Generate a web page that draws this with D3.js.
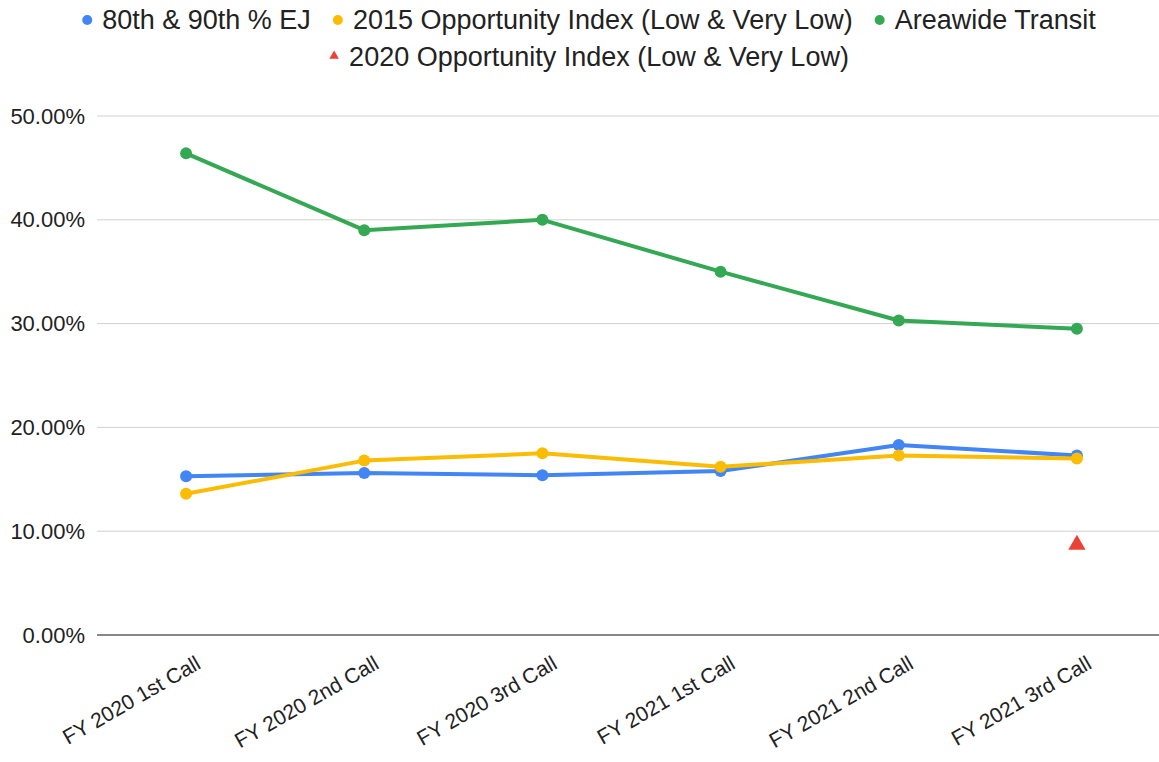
<!DOCTYPE html>
<html>
<head>
<meta charset="utf-8">
<script src="https://cdn.jsdelivr.net/npm/d3@7"></script>
<style>
  body { margin: 0; background: #fff; }
  text { font-family: "Liberation Sans", Arial, sans-serif; fill: #222; }
</style>
</head>
<body>
<div id="chart"></div>
<script>
const categories = ['FY 2020 1st Call', 'FY 2020 2nd Call', 'FY 2020 3rd Call',
  'FY 2021 1st Call', 'FY 2021 2nd Call', 'FY 2021 3rd Call'];
const ejValues = [0.153, 0.156, 0.154, 0.158, 0.183, 0.173];
const opp2015Values = [0.136, 0.168, 0.175, 0.162, 0.173, 0.170];
const transitValues = [0.464, 0.390, 0.400, 0.350, 0.303, 0.295];
const opp2020Values = [null, null, null, null, null, 0.087];
const yTicks = [0, 0.1, 0.2, 0.3, 0.4, 0.5];

const series = [
  { name: '80th & 90th % EJ', values: ejValues, color: '#4285f4', type: 'line' },
  { name: '2015 Opportunity Index (Low & Very Low)', values: opp2015Values, color: '#fbbc04', type: 'line' },
  { name: 'Areawide Transit', values: transitValues, color: '#34a853', type: 'line' },
  { name: '2020 Opportunity Index (Low & Very Low)', values: opp2020Values, color: '#ea4335', type: 'triangle' }
];

const width = 1159, height = 762;
const margin = { top: 116, right: 0, bottom: 127, left: 97 };

const svg = d3.select('#chart').append('svg')
  .attr('width', width)
  .attr('height', height);

// points sit at 186 ... 1077, so the band runs a little past the right edge
const x = d3.scalePoint()
  .domain(categories)
  .range([margin.left, 1166])
  .padding(0.5);

const y = d3.scaleLinear()
  .domain([0, 0.5])
  .range([height - margin.bottom, margin.top]);

// grid
svg.append('g')
  .selectAll('line')
  .data(yTicks)
  .enter().append('line')
    .attr('x1', margin.left)
    .attr('x2', width - margin.right)
    .attr('y1', d => y(d))
    .attr('y2', d => y(d))
    .attr('stroke', d => d === 0 ? '#888' : '#d0d0d0')
    .attr('stroke-width', d => d === 0 ? 2 : 1);

// y labels
const yAxis = svg.append('g')
  .attr('transform', `translate(${margin.left - 12},0)`)
  .call(d3.axisLeft(y).tickValues(yTicks).tickFormat(d3.format('.2%')).tickSize(0));
yAxis.select('.domain').remove();
yAxis.selectAll('text')
  .attr('x', 0)
  .style('font-size', '22px')
  .style('font-family', '"Liberation Sans", Arial, sans-serif')
  .attr('fill', '#222');

// x labels
const xAxis = svg.append('g')
  .attr('transform', `translate(0,${height - margin.bottom})`)
  .call(d3.axisBottom(x).tickSize(0));
xAxis.select('.domain').remove();
xAxis.selectAll('text')
  .style('font-size', '21px')
  .style('font-family', '"Liberation Sans", Arial, sans-serif')
  .attr('fill', '#222')
  .style('text-anchor', 'end')
  .attr('dy', 0)
  .attr('transform', 'translate(14,30) rotate(-30)');

// lines
const line = d3.line()
  .defined(d => d != null)
  .x((d, i) => x(categories[i]))
  .y(d => y(d));

series.filter(s => s.type === 'line').forEach(s => {
  svg.append('path')
    .datum(s.values)
    .attr('fill', 'none')
    .attr('stroke', s.color)
    .attr('stroke-width', 4)
    .attr('stroke-linejoin', 'round')
    .attr('d', line);
  svg.append('g')
    .selectAll('circle')
    .data(s.values)
    .enter().append('circle')
      .attr('cx', (d, i) => x(categories[i]))
      .attr('cy', d => y(d))
      .attr('r', 6)
      .attr('fill', s.color);
});

const tri = d3.symbol().type(d3.symbolTriangle);
series.filter(s => s.type === 'triangle').forEach(s => {
  svg.append('g')
    .selectAll('path')
    .data(s.values.map((v, i) => [categories[i], v]).filter(d => d[1] != null))
    .enter().append('path')
      .attr('d', tri.size(130)())
      .attr('transform', d => `translate(${x(d[0])},${y(d[1])})`)
      .attr('fill', s.color);
});

// legend, two rows centred
const rows = [[0, 1, 2], [3]];
const legendFont = 27;
rows.forEach((row, r) => {
  const g = svg.append('g');
  let cx = 0;
  row.forEach(i => {
    const it = g.append('g').attr('transform', `translate(${cx},0)`);
    const s = series[i];
    if (s.type === 'triangle') {
      it.append('path').attr('d', d3.symbol().type(d3.symbolTriangle).size(40)())
        .attr('transform', 'translate(5,-1)').attr('fill', s.color);
    } else {
      it.append('circle').attr('cx', 5).attr('cy', 0).attr('r', 5).attr('fill', s.color);
    }
    const t = it.append('text')
      .attr('x', 20)
      .attr('dy', '0.35em')
      .style('font-size', legendFont + 'px')
      .text(s.name);
    cx += 20 + t.node().getComputedTextLength() + 22;
  });
  const total = cx - 22;
  g.attr('transform', `translate(${589 - total / 2},${20 + r * 37})`);
});
</script>
</body>
</html>
